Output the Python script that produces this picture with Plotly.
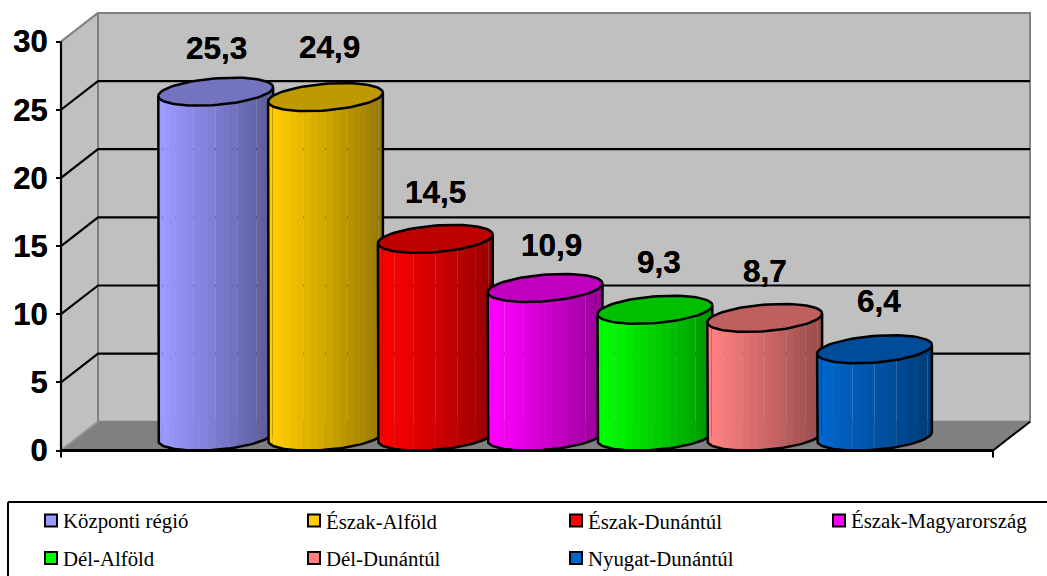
import math
import plotly.graph_objects as go

# ---- data ----
REGIONS = ["Központi régió", "Észak-Alföld", "Észak-Dunántúl", "Észak-Magyarország",
           "Dél-Alföld", "Dél-Dunántúl", "Nyugat-Dunántúl"]
VALUES = [25.3, 24.9, 14.5, 10.9, 9.3, 8.7, 6.4]
VALUE_LABELS = ["25,3", "24,9", "14,5", "10,9", "9,3", "8,7", "6,4"]
COLORS = ["#9999FF", "#FFCC00", "#FF0000", "#FF00FF", "#00FF00", "#FF8080", "#0066CC"]
Y_TICKS = [0, 5, 10, 15, 20, 25, 30]

# ---- layout constants (pixels) ----
W, H = 1047, 576
PX_X = 109.8               # pixels per category step
PX_Y = 13.63               # pixels per value unit
X1_PX, Y0_PX = 215.7, 450.5  # pixel of first category / of value 0
AX_L_PX, AX_R_PX = 61, 993
DEPTH_X, DEPTH_Y = 37 / PX_X, 28.7 / PX_Y
RADIUS = 54.5 / PX_X
ELL_X, ELL_Y = 18 / PX_X, 14 / PX_Y
BASE = 14 / PX_Y
HALF_W = math.hypot(RADIUS, ELL_X)
X_RANGE = [1 - X1_PX / PX_X, 1 + (W - X1_PX) / PX_X]
Y_RANGE = [(Y0_PX - H) / PX_Y, Y0_PX / PX_Y]
XL = 1 + (AX_L_PX - X1_PX) / PX_X
XR = 1 + (AX_R_PX - X1_PX) / PX_X
N_SLICES = 24
LABEL_SHIFT_X = [1, 4, 0, 6, 4, 0, 4]
LABEL_SHIFT_Y = [43, 49, 46, 42, 47, 46, 47]
SHADOW = "0 0 0.6px #000000"

fig = go.Figure()


def poly(xs, ys, fill=None, line=None, width=0):
    fig.add_trace(go.Scatter(
        x=xs, y=ys, mode="lines",
        fill="toself" if fill else "none", fillcolor=fill,
        line=dict(color=line or "rgba(0,0,0,0)", width=width),
        hoverinfo="skip", showlegend=False))


def shade(hex_color, k):
    r, g, b = (int(hex_color[i:i + 2], 16) for i in (1, 3, 5))
    return f"rgb({round(r * k)},{round(g * k)},{round(b * k)})"


def ell(cx, cy, t):
    return (cx + RADIUS * math.cos(t) + ELL_X * math.sin(t), cy + ELL_Y * math.sin(t))


# walls and floor
top = max(Y_TICKS)
poly([XL + DEPTH_X, XR + DEPTH_X, XR + DEPTH_X, XL + DEPTH_X, XL + DEPTH_X],
     [DEPTH_Y, DEPTH_Y, top + DEPTH_Y, top + DEPTH_Y, DEPTH_Y], fill="#C0C0C0", line="#808080", width=2)
poly([XL, XL + DEPTH_X, XL + DEPTH_X, XL, XL], [0, DEPTH_Y, top + DEPTH_Y, top, 0],
     fill="#C0C0C0", line="#808080", width=2)
poly([XL, XL + DEPTH_X, XR + DEPTH_X, XR, XL], [0, DEPTH_Y, DEPTH_Y, 0, 0], fill="#808080")
poly([XL, XL + DEPTH_X], [0, DEPTH_Y], line="#A6A6A6", width=1)

# gridlines
for v in Y_TICKS[1:-1]:
    poly([XL, XL + DEPTH_X, XR + DEPTH_X], [v, v + DEPTH_Y, v + DEPTH_Y], line="#000000", width=2.2)

# cylinders
theta = math.atan2(ELL_X * PX_X, RADIUS * PX_X)
for i, (val, col) in enumerate(zip(VALUES, COLORS)):
    cx = i + 1
    ctop = BASE + val
    t0 = math.pi + theta
    for k in range(N_SLICES):
        ta = t0 + math.pi * k / N_SLICES
        tb = t0 + math.pi * (k + 1) / N_SLICES
        # most slices overlap the next; every third keeps a faint seam as in the reference
        tb_draw = tb if (k + 1) % 3 == 0 or k == N_SLICES - 1 else tb + math.pi / N_SLICES / 2
        ts = [ta + (tb_draw - ta) * j / 3 for j in range(4)]
        upper = [ell(cx, ctop, t) for t in ts]
        lower = [ell(cx, BASE, t) for t in reversed(ts)]
        pts = upper + lower + [upper[0]]
        frac = (upper[0][0] - (cx - HALF_W)) / (2 * HALF_W)
        poly([p[0] for p in pts], [p[1] for p in pts], fill=shade(col, 1 - 0.42 * max(0, frac - 0.04) / 0.96))
    ts = [t0 + math.pi * j / 48 for j in range(49)]
    bottom = [ell(cx, BASE, t) for t in ts]
    a = ell(cx, ctop, ts[0])
    b = ell(cx, ctop, ts[-1])
    pts = [a] + bottom + [b]
    poly([p[0] for p in pts], [p[1] for p in pts], line="#000000", width=2.5)
    circle = [ell(cx, ctop, 2 * math.pi * j / 72) for j in range(73)]
    poly([p[0] for p in circle], [p[1] for p in circle], fill=shade(col, 0.75), line="#000000", width=2.5)

# axes lines
poly([XL, XL], [0, top], line="#000000", width=2.2)
poly([XL, XR], [0, 0], line="#000000", width=3)
poly([XR, XR + DEPTH_X], [0, DEPTH_Y], line="#000000", width=2)
tick = 7 / PX_Y
poly([XL, XL], [0, -tick], line="#000000", width=2)
poly([XR, XR], [0, -tick], line="#000000", width=2)

# value labels
annotations = [
    dict(x=i + 1, y=BASE + v, text=f"<b>{t}</b>", showarrow=False, xref="x", yref="y",
         xshift=LABEL_SHIFT_X[i], yshift=LABEL_SHIFT_Y[i] + 1, xanchor="center", yanchor="middle",
         font=dict(family="Liberation Sans", size=31.5, color="#000000", shadow=SHADOW))
    for i, (v, t) in enumerate(zip(VALUES, VALUE_LABELS))
]

# legend
shapes = [
    dict(type="line", xref="paper", yref="paper", x0=8 / W, x1=1, y0=1 - 502 / H, y1=1 - 502 / H,
         line=dict(color="#000000", width=2)),
    dict(type="line", xref="paper", yref="paper", x0=8 / W, x1=8 / W, y0=0, y1=1 - 502 / H,
         line=dict(color="#000000", width=2)),
]
LEG_X = [45, 308, 570, 833]
LEG_Y = [520.5, 558]
for i, (name, col) in enumerate(zip(REGIONS, COLORS)):
    px, py = LEG_X[i % 4], LEG_Y[i // 4]
    shapes.append(dict(type="rect", xref="paper", yref="paper",
                       x0=(px) / W, x1=(px + 12) / W, y0=1 - (py + 6) / H, y1=1 - (py - 6) / H,
                       fillcolor=col, line=dict(color="#000000", width=2)))
    annotations.append(dict(x=(px + 16) / W, y=1 - (py + 0.5) / H, xref="paper", yref="paper", text=name,
                            showarrow=False, xanchor="left", yanchor="middle",
                            font=dict(family="Liberation Serif", size=20.8, color="#000000")))

fig.update_layout(
    width=W, height=H, margin=dict(l=0, r=0, t=0, b=0),
    paper_bgcolor="#FFFFFF", plot_bgcolor="#FFFFFF", showlegend=False,
    xaxis=dict(visible=False, range=X_RANGE, fixedrange=True),
    yaxis=dict(range=Y_RANGE, anchor="free", position=AX_L_PX / W, side="left",
               tickmode="array", tickvals=Y_TICKS, ticktext=[str(t) for t in Y_TICKS],
               ticks="outside", ticklen=5, tickwidth=2, tickcolor="#000000",
               showgrid=False, zeroline=False, showline=False, ticklabelstandoff=2,
               tickfont=dict(family="Liberation Sans", size=31, color="#000000", weight="bold", shadow=SHADOW),
               fixedrange=True),
    shapes=shapes, annotations=annotations,
)
fig.write_html("out.html", post_script="document.body.style.margin='0';document.body.style.overflow='hidden';",
               config={"displayModeBar": False})
